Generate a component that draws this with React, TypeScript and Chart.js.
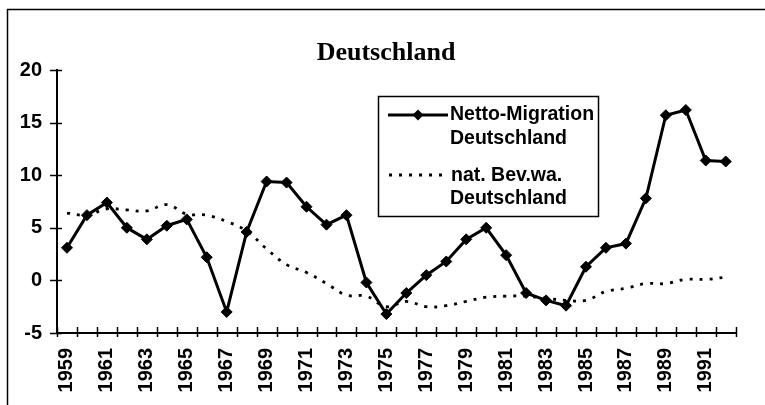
import React, { useEffect, useRef } from "react";
import { Chart, registerables } from "chart.js";

Chart.register(...registerables);

const chartTitle = "Deutschland";

const years = [
  "1959", "1960", "1961", "1962", "1963", "1964", "1965", "1966", "1967", "1968",
  "1969", "1970", "1971", "1972", "1973", "1974", "1975", "1976", "1977", "1978",
  "1979", "1980", "1981", "1982", "1983", "1984", "1985", "1986", "1987", "1988",
  "1989", "1990", "1991", "1992",
];

const nettoMigration = [
  3.1, 6.2, 7.4, 5.0, 3.9, 5.2, 5.8, 2.2, -3.0, 4.6,
  9.4, 9.3, 7.0, 5.3, 6.2, -0.2, -3.2, -1.2, 0.5, 1.8,
  3.9, 5.0, 2.4, -1.2, -1.9, -2.4, 1.3, 3.1, 3.5, 7.8,
  15.7, 16.2, 11.4, 11.3,
];

const natBevWa = [
  6.4, 6.2, 6.8, 6.7, 6.6, 7.2, 6.3, 6.2, 5.6, 4.7,
  3.0, 1.5, 0.75, -0.3, -1.4, -1.5, -2.5, -2.0, -2.5, -2.4,
  -2.0, -1.6, -1.5, -1.5, -1.7, -1.9, -1.9, -1.05, -0.75, -0.3,
  -0.3, 0.1, 0.1, 0.3,
];

const legendMigration = ["Netto-Migration", "Deutschland"];
const legendNatural = ["nat. Bev.wa.", "Deutschland"];

const yMin = -5;
const yMax = 20;
const yStep = 5;

const FONT = "'Liberation Sans', Arial, sans-serif";
const SERIF = "'Liberation Serif', 'Times New Roman', serif";

const framePlugin = {
  id: "frame",
  beforeDraw(chart: any) {
    const ctx = chart.ctx;
    ctx.save();
    ctx.fillStyle = "#ffffff";
    ctx.fillRect(0, 0, chart.width, chart.height);
    ctx.strokeStyle = "#000000";
    ctx.lineWidth = 1.5;
    ctx.strokeRect(7.5, 9.5, chart.width + 20, chart.height + 20);
    // title
    ctx.fillStyle = "#000000";
    ctx.font = `bold 26px ${SERIF}`;
    ctx.textAlign = "center";
    ctx.textBaseline = "alphabetic";
    ctx.fillText(chartTitle, 386, 60);
    ctx.restore();
  },
};

const tickMarksPlugin = {
  id: "tickMarks",
  beforeDatasetsDraw(chart: any) {
    const ctx = chart.ctx;
    const xs = chart.scales.x;
    const ys = chart.scales.y;
    ctx.save();
    ctx.strokeStyle = "#000000";
    ctx.lineWidth = 1.5;
    ctx.beginPath();
    ys.ticks.forEach((t: any) => {
      const y = Math.round(ys.getPixelForValue(t.value)) + 0.5;
      ctx.moveTo(ys.right - 7, y);
      ctx.lineTo(ys.right + 5, y);
    });
    const n = chart.data.labels.length;
    const step = (xs.right - xs.left) / n;
    for (let i = 0; i <= n; i++) {
      const x = Math.round(xs.getPixelForValue(0) - step / 2 + i * step) + 0.5;
      ctx.moveTo(x, xs.top - 6);
      ctx.lineTo(x, xs.top + 4);
    }
    ctx.stroke();
    ctx.restore();
  },
};

const legendPlugin = {
  id: "boxLegend",
  afterDraw(chart: any) {
    const ctx = chart.ctx;
    const ds0 = chart.data.datasets[0];
    const ds1 = chart.data.datasets[1];
    ctx.save();
    ctx.fillStyle = "#ffffff";
    ctx.fillRect(378, 96, 220, 120);
    ctx.strokeStyle = "#000000";
    ctx.lineWidth = 1.5;
    ctx.strokeRect(378.5, 96.5, 220, 120);

    ctx.strokeStyle = ds0.borderColor;
    ctx.lineWidth = ds0.borderWidth;
    ctx.setLineDash([]);
    ctx.beginPath();
    ctx.moveTo(388, 115);
    ctx.lineTo(448, 115);
    ctx.stroke();
    ctx.fillStyle = ds0.pointBackgroundColor;
    ctx.beginPath();
    const r = 5.5;
    ctx.moveTo(418, 115 - r);
    ctx.lineTo(418 + r, 115);
    ctx.lineTo(418, 115 + r);
    ctx.lineTo(418 - r, 115);
    ctx.closePath();
    ctx.fill();

    ctx.strokeStyle = ds1.borderColor;
    ctx.lineWidth = ds1.borderWidth;
    ctx.setLineDash(ds1.borderDash);
    ctx.beginPath();
    ctx.moveTo(389, 175);
    ctx.lineTo(442, 175);
    ctx.stroke();
    ctx.setLineDash([]);

    ctx.fillStyle = "#000000";
    ctx.font = `bold 19.5px ${FONT}`;
    ctx.textAlign = "left";
    ctx.textBaseline = "middle";
    ctx.fillText(legendMigration[0], 450, 115);
    ctx.fillText(legendMigration[1], 450, 139);
    ctx.fillText(legendNatural[0], 451, 176);
    ctx.fillText(legendNatural[1], 450, 199);
    ctx.restore();
  },
};

export default function App() {
  const canvasRef = useRef<HTMLCanvasElement | null>(null);

  useEffect(() => {
    const canvas = canvasRef.current;
    if (!canvas) return;
    const chart = new Chart(canvas, {
      type: "line",
      data: {
        labels: years,
        datasets: [
          {
            label: legendMigration.join(" "),
            data: nettoMigration,
            borderColor: "#000000",
            backgroundColor: "#000000",
            pointBackgroundColor: "#000000",
            pointBorderColor: "#000000",
            borderWidth: 3,
            pointStyle: "rectRot",
            pointRadius: 5.5,
            pointBorderWidth: 1,
            tension: 0,
            order: 1,
          },
          {
            label: legendNatural.join(" "),
            data: natBevWa,
            borderColor: "#000000",
            backgroundColor: "#000000",
            borderWidth: 2.8,
            borderDash: [3, 7],
            pointRadius: 0,
            tension: 0.4,
            order: 2,
          },
        ],
      } as any,
      options: {
        responsive: false,
        animation: false,
        devicePixelRatio: 1,
        layout: { padding: { left: 0, right: 19, top: 70, bottom: 0 } },
        plugins: {
          legend: { display: false },
          tooltip: { enabled: false },
          title: { display: false },
        },
        scales: {
          x: {
            type: "category",
            offset: true,
            grid: { display: false, drawTicks: false, offset: true },
            border: { display: true, color: "#000000", width: 2 },
            ticks: {
              autoSkip: false,
              maxRotation: 90,
              minRotation: 90,
              padding: 15,
              color: "#000000",
              font: { family: FONT, size: 20, weight: "bold" },
              callback: (_v: any, i: number) => (i % 2 === 0 ? years[i] : ""),
            },
            afterFit: (scale: any) => {
              scale.height = 72;
            },
          },
          y: {
            min: yMin,
            max: yMax,
            grid: { display: false, drawTicks: false },
            border: { display: true, color: "#000000", width: 2 },
            ticks: {
              stepSize: yStep,
              padding: 15,
              color: "#000000",
              font: { family: FONT, size: 20, weight: "bold" },
            },
            afterFit: (scale: any) => {
              scale.width = 57;
            },
          },
        },
      } as any,
      plugins: [framePlugin, tickMarksPlugin, legendPlugin],
    });
    return () => chart.destroy();
  }, []);

  return (
    <div style={{ position: "fixed", left: 0, top: 0, width: 765, height: 405, overflow: "hidden", background: "#fff" }}>
      <canvas ref={canvasRef} width={765} height={405} style={{ display: "block" }} />
    </div>
  );
}
